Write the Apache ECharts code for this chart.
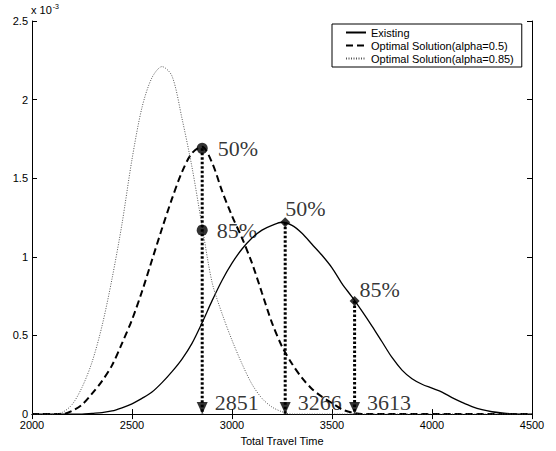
<!DOCTYPE html>
<html>
<head>
<meta charset="utf-8">
<script src="https://cdn.jsdelivr.net/npm/echarts@6/dist/echarts.min.js"></script>
<style>html,body{margin:0;padding:0;background:#fff;}#c{width:556px;height:451px;}</style>
</head>
<body>
<div id="c"></div>
<script>
// ---- data (density values in units of 1e-3) ----
const existingTime = [2000,2250,2300,2350,2400,2450,2500,2550,2600,2650,2700,2750,2800,2850,2900,2950,3000,3050,3100,3150,3200,3250,3300,3350,3400,3450,3500,3550,3600,3650,3700,3750,3800,3850,3900,3950,4000,4050,4100,4150,4200,4250,4300,4350,4400,4500];
const existingDensity = [0,0,0.005,0.01,0.02,0.04,0.065,0.10,0.14,0.20,0.27,0.35,0.45,0.58,0.72,0.85,0.96,1.05,1.12,1.17,1.20,1.22,1.20,1.15,1.08,1.01,0.93,0.83,0.745,0.655,0.56,0.46,0.36,0.28,0.225,0.19,0.165,0.14,0.105,0.075,0.048,0.028,0.015,0.007,0.002,0];

const opt05Time = [2000,2150,2200,2250,2300,2350,2400,2450,2500,2550,2600,2650,2700,2750,2800,2850,2900,2950,3000,3050,3100,3150,3200,3250,3300,3350,3400,3450,3500,3550,3600,3650,4500];
const opt05Density = [0,0,0.02,0.06,0.13,0.21,0.31,0.45,0.60,0.78,0.98,1.18,1.37,1.54,1.66,1.70,1.60,1.42,1.26,1.12,0.96,0.77,0.58,0.43,0.32,0.23,0.16,0.11,0.07,0.03,0.01,0,0];

const opt085Time = [2000,2100,2150,2200,2250,2300,2350,2400,2450,2500,2550,2600,2650,2700,2750,2800,2850,2900,2950,3000,3050,3100,3150,3200,3250,3300,4500];
const opt085Density = [0,0,0.01,0.06,0.17,0.33,0.56,0.86,1.21,1.62,1.95,2.14,2.21,2.15,1.88,1.57,1.20,0.84,0.64,0.47,0.32,0.19,0.10,0.045,0.015,0,0];

const seriesNames = ['Existing','Optimal Solution(alpha=0.5)','Optimal Solution(alpha=0.85)'];

// marked quantile points
const markX = [2851, 2851, 3266, 3613];
const markY = [1.69, 1.17, 1.22, 0.72];
const markText = ['50%', '85%', '50%', '85%'];
const markShape = ['circle', 'circle', 'diamond', 'diamond'];

// drop lines to the axis
const dropX = [2851, 3266, 3613];
const dropTop = [1.69, 1.22, 0.72];
const dropText = ['2851', '3266', '3613'];

const xTicks = [2000, 2500, 3000, 3500, 4000, 4500];
const yTicks = [0, 0.5, 1, 1.5, 2, 2.5];

// ---- chart ----
const zip = (a, b) => a.map((v, i) => [v, b[i]]);
const serif = '"Liberation Serif", "DejaVu Serif", serif';
const sans = '"Liberation Sans", Arial, sans-serif';

const labelOffsets = [[10, 0], [9, 0], [-5, -14], [0, -11]];

const series = [
  { name: seriesNames[0], type: 'line', data: zip(existingTime, existingDensity), showSymbol: false, symbol: 'none',
    smooth: 0.3, lineStyle: { color: '#000', width: 1.3, type: 'solid' }, itemStyle: { color: '#000' }, z: 3 },
  { name: seriesNames[1], type: 'line', data: zip(opt05Time, opt05Density), showSymbol: false, symbol: 'none',
    smooth: 0.3, lineStyle: { color: '#000', width: 2, type: [7, 4] }, itemStyle: { color: '#000' }, z: 3 },
  { name: seriesNames[2], type: 'line', data: zip(opt085Time, opt085Density), showSymbol: false, symbol: 'none',
    smooth: 0.3, lineStyle: { color: '#555', width: 1, type: [1, 1.5] }, itemStyle: { color: '#555' }, z: 3 }
];

dropX.forEach((x, i) => {
  series.push({ type: 'line', data: [[x, dropTop[i]], [x, 0]], symbol: 'none', silent: true,
    lineStyle: { color: '#000', width: 3, type: [2.5, 2] }, z: 4 });
  series.push({ type: 'scatter', data: [[x, 0]], symbol: 'triangle', symbolRotate: 180, symbolSize: [11, 12],
    symbolOffset: [0, -6], itemStyle: { color: '#000' }, silent: true, z: 6,
    label: { show: true, position: 'right', distance: 7, offset: [0, -6], formatter: dropText[i],
      fontFamily: serif, fontSize: 22, color: '#000' } });
});

markX.forEach((x, i) => {
  series.push({ type: 'scatter', data: [[x, markY[i]]], symbol: markShape[i],
    symbolSize: markShape[i] === 'circle' ? 11 : 10, itemStyle: { color: '#000' }, silent: true, z: 7,
    label: { show: true, position: 'right', distance: 0, offset: labelOffsets[i], formatter: markText[i],
      fontFamily: serif, fontSize: 22, color: '#000' } });
});

const chart = echarts.init(document.getElementById('c'), null, { renderer: 'svg' });
chart.setOption({
  animation: false,
  backgroundColor: '#fff',
  grid: { left: 32, right: 24, top: 21, bottom: 34 },
  legend: {
    data: seriesNames, orient: 'vertical', left: 332, top: 24,
    itemWidth: 20, itemHeight: 10, itemGap: 2,
    padding: [3, 8, 3, 13],
    borderColor: '#000', borderWidth: 1, backgroundColor: '#fff',
    itemStyle: { opacity: 0 },
    textStyle: { fontFamily: sans, fontSize: 11, color: '#000' }
  },
  xAxis: [
    { type: 'value', min: xTicks[0], max: xTicks[xTicks.length - 1], interval: 500, position: 'bottom',
      name: 'Total Travel Time', nameLocation: 'middle', nameGap: 17,
      nameTextStyle: { fontFamily: sans, fontSize: 11, color: '#000' },
      axisLine: { show: true, lineStyle: { color: '#000', width: 1 } },
      axisTick: { show: true, inside: true, length: 5, lineStyle: { color: '#000' } },
      axisLabel: { fontFamily: sans, fontSize: 11, color: '#000', margin: 5, formatter: v => String(v) },
      splitLine: { show: false } },
    { type: 'value', min: xTicks[0], max: xTicks[xTicks.length - 1], interval: 500, position: 'top',
      axisLine: { show: true, lineStyle: { color: '#000', width: 1 } },
      axisTick: { show: true, inside: true, length: 5, lineStyle: { color: '#000' } },
      axisLabel: { show: false }, splitLine: { show: false } }
  ],
  yAxis: [
    { type: 'value', min: yTicks[0], max: yTicks[yTicks.length - 1], interval: 0.5, position: 'left',
      name: '{a|x 10}{b|-3}', nameLocation: 'end', nameGap: 3,
      nameTextStyle: { align: 'left', verticalAlign: 'bottom', padding: [0, 0, 0, -1],
        rich: { a: { fontFamily: sans, fontSize: 11, color: '#000' }, b: { fontFamily: sans, fontSize: 7, color: '#000', verticalAlign: 'top', padding: [0, 0, 8, 1] } } },
      axisLine: { show: true, lineStyle: { color: '#000', width: 1 } },
      axisTick: { show: true, inside: true, length: 5, lineStyle: { color: '#000' } },
      axisLabel: { fontFamily: sans, fontSize: 11, color: '#000', margin: 4, formatter: v => String(v) },
      splitLine: { show: false } },
    { type: 'value', min: yTicks[0], max: yTicks[yTicks.length - 1], interval: 0.5, position: 'right',
      axisLine: { show: true, lineStyle: { color: '#000', width: 1 } },
      axisTick: { show: true, inside: true, length: 5, lineStyle: { color: '#000' } },
      axisLabel: { show: false }, splitLine: { show: false } }
  ],
  series: series
});
</script>
</body>
</html>
